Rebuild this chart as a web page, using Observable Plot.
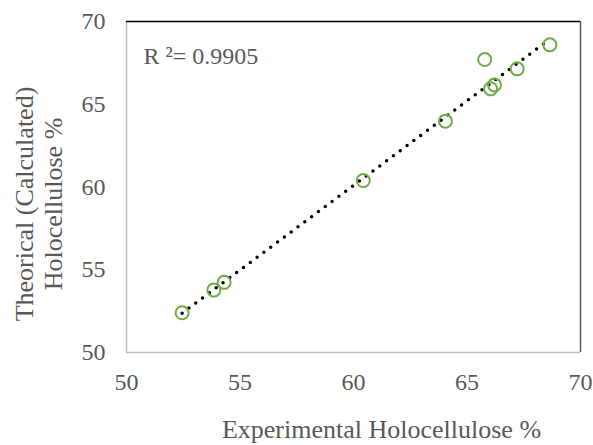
<!DOCTYPE html>
<html><head><meta charset="utf-8">
<script src="https://cdn.jsdelivr.net/npm/d3@7"></script>
<script src="https://cdn.jsdelivr.net/npm/@observablehq/plot@0.6"></script>
<style>body{margin:0;background:#fff}</style></head>
<body><div id="chart"></div>
<script>
const expX  = [52.45, 53.85, 54.30, 60.43, 64.05, 65.78, 66.04, 66.21, 67.21, 68.65];
const theoY = [52.40, 53.77, 54.24, 60.39, 63.98, 67.70, 65.93, 66.17, 67.14, 68.59];
const xTicks = [50, 55, 60, 65, 70];
const yTicks = [50, 55, 60, 65, 70];
const r2Label = ["R \u00b2= 0.9905"];
const xTitle = ["Experimental Holocellulose %"];
const yTitleLines = ["Theorical (Calculated)", "Holocellulose %"];

const data = expX.map((x, i) => ({x, y: theoY[i]}));

const chart = Plot.plot({
  width: 593, height: 445,
  marginLeft: 126, marginRight: 13, marginTop: 21, marginBottom: 93,
  style: {fontFamily: "'Liberation Serif', 'Times New Roman', serif", fontSize: "24px", color: "#595959", background: "#fff"},
  x: {domain: [50, 70]},
  y: {domain: [50, 70]},
  marks: [
    Plot.ruleX([50], {stroke: "#bfbfbf", strokeWidth: 1.5}),
    Plot.ruleY([50], {stroke: "#bfbfbf", strokeWidth: 1.5}),
    Plot.ruleY([70], {stroke: "#000", strokeWidth: 1.5}),
    Plot.ruleX([70], {stroke: "#595959", strokeWidth: 1.5}),
    Plot.axisX({ticks: xTicks, tickSize: 0, tickPadding: 20, label: null, fontSize: 24}),
    Plot.axisY({ticks: yTicks, tickSize: 0, tickPadding: 21, label: null, fontSize: 24}),
    Plot.linearRegressionY(data, {x: "x", y: "y", ci: 0, stroke: "#000", strokeWidth: 3.5, strokeDasharray: "0 8.5", strokeLinecap: "round"}),
    Plot.dot(data, {x: "x", y: "y", r: 6.5, stroke: "#70ad47", strokeWidth: 2, fill: "none"}),
    Plot.text(r2Label, {frameAnchor: "top-left", textAnchor: "start", lineAnchor: "top", dx: 17, dy: 25, fontSize: 24, fill: "#595959"}),
    Plot.text(xTitle, {frameAnchor: "bottom", textAnchor: "middle", lineAnchor: "middle", dx: 28, dy: 77, fontSize: 26, fill: "#595959"}),
    Plot.text([yTitleLines.join("\n")], {frameAnchor: "left", textAnchor: "middle", rotate: -90, lineAnchor: "middle", dx: -88.5, dy: 17, fontSize: 26, lineHeight: 1.12, fill: "#595959"})
  ]
});
document.getElementById("chart").appendChild(chart);
</script></body></html>
